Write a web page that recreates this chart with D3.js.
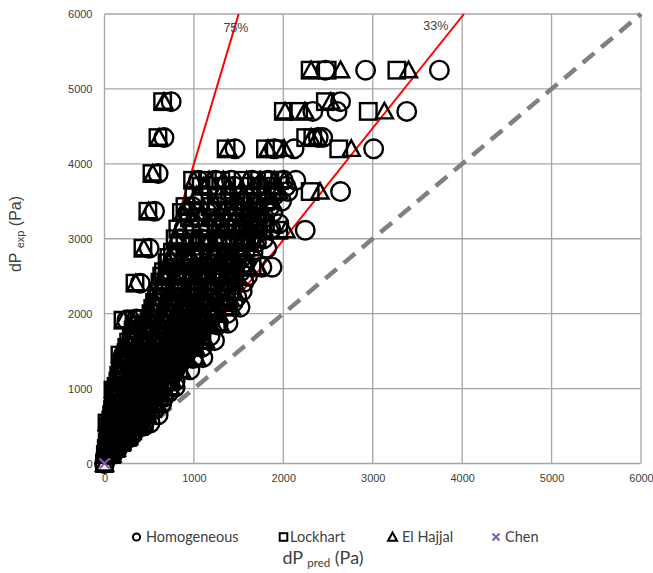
<!DOCTYPE html>
<html>
<head>
<meta charset="utf-8">
<script src="https://cdn.jsdelivr.net/npm/d3@7/dist/d3.min.js"></script>
<style>
  html, body { margin: 0; padding: 0; background: #fff; }
  svg { display: block; }
</style>
</head>
<body>
<script>
// Measured pressure drop (dP_exp) levels and the predicted pressure drops
// of each model at every level (one entry per experiment at that level).
const expLevels = [5250, 4830, 4700, 4350, 4200, 3870, 3780, 3630, 3500, 3367, 3350, 3200, 3113, 3000,
  2873, 2750, 2620, 2500, 2407, 2300, 2150, 2087, 2000, 1913, 1873, 1850, 1700, 1640, 1550, 1447,
  1413, 1400, 1250, 1100, 1020, 980, 950, 800, 650, 540, 500, 350, 200, 0,
  3700, 3580, 3430, 3280, 3130, 2950, 2820, 2680, 2560,
  2420, 2220, 2070, 1930, 1780, 1620, 1480, 1330, 1180, 1030, 880, 720, 580, 420, 280, 120];

const lockhartByLevel = [
  [2300, 2490, 3270], [650, 2470], [2000, 2170, 2950], [598, 2250, 2330], [1360, 1800, 1910, 2620],
  [531], [985, 1150, 1300, 1550, 1700, 1850, 1960], [1900, 2300], [1400, 1650, 1800], [485],
  [860, 1060, 1380, 1560, 1720], [1250, 1480, 1640, 1800], [1950], [790, 1000, 1150, 1350, 1500, 1650],
  [430, 1580], [720, 900, 1100, 1250, 1400], [1550, 1650], [640, 820, 1000, 1150, 1300, 1450], [341],
  [600, 780, 950, 1100, 1250, 1400], [560, 720, 880, 1020, 1160, 1300], [1380],
  [520, 680, 820, 960, 1100, 1240], [207], [1250], [350, 480, 620, 760, 900, 1030, 1150],
  [300, 440, 570, 700, 830, 950, 1070], [1090], [250, 400, 520, 640, 760, 870, 990], [173], [1000],
  [220, 360, 470, 580, 690, 800, 900], [180, 320, 420, 520, 620, 720, 830],
  [150, 290, 380, 470, 560, 650, 740], [720], [95], [120, 250, 330, 410, 490, 570, 660],
  [100, 210, 280, 350, 420, 490, 560], [80, 170, 230, 290, 350, 410, 470], [28, 420],
  [60, 140, 190, 240, 290, 340, 390], [40, 100, 140, 180, 220, 260], [20, 60, 85, 110, 130], [0],
  [1080, 1350, 1620, 1880], [1000, 1250, 1500, 1760], [900, 1180, 1440, 1700], [950, 1200, 1420, 1650],
  [820, 1080, 1300, 1560, 1720], [900, 1120, 1320, 1560], [760, 980, 1180, 1380, 1500],
  [700, 880, 1060, 1240, 1420], [660, 860, 1040, 1220, 1380],
  [620, 800, 970, 1130, 1280, 1420], [580, 750, 910, 1060, 1210, 1360], [540, 700, 850, 1000, 1150],
  [330, 500, 650, 790, 930, 1080], [320, 460, 600, 730, 860, 990], [270, 420, 550, 670, 790, 920],
  [240, 380, 500, 610, 720, 840], [200, 340, 440, 550, 650, 760], [160, 300, 400, 490, 590, 690],
  [130, 270, 350, 430, 520, 610], [110, 230, 300, 380, 450, 520, 600], [90, 190, 250, 320, 380, 440, 510],
  [70, 155, 210, 260, 310, 370], [50, 120, 160, 210, 250, 300], [30, 80, 110, 150, 190], [10, 40, 60, 80]
];

const elHajjalByLevel = [
  [2310, 2640, 3400], [665, 2530], [2020, 2240, 3130], [610, 2310, 2380], [1380, 1830, 2010, 2760],
  [540], [1000, 1170, 1330, 1590, 1740, 1900, 2010], [1950, 2410], [1450, 1700, 1860], [495],
  [880, 1090, 1420, 1600, 1780], [1290, 1520, 1690, 1860], [2030], [800, 1020, 1180, 1390, 1540, 1700],
  [440, 1640], [740, 930, 1130, 1290, 1440], [1600, 1720], [660, 850, 1030, 1190, 1340, 1490], [350],
  [620, 800, 980, 1130, 1290, 1450], [575, 740, 900, 1050, 1200, 1340], [1420],
  [535, 700, 840, 990, 1130, 1280], [215], [1290], [360, 495, 640, 780, 930, 1060, 1190],
  [310, 455, 590, 720, 850, 980, 1100], [1130], [260, 410, 540, 660, 780, 900, 1020], [180], [1030],
  [230, 370, 490, 600, 710, 820, 930], [190, 330, 440, 540, 640, 740, 860],
  [155, 300, 390, 480, 580, 670, 760], [740], [100], [125, 260, 340, 420, 500, 590, 680],
  [105, 220, 290, 360, 430, 500, 580], [85, 175, 240, 300, 360, 420, 480], [30, 440],
  [62, 145, 195, 250, 300, 350, 400], [42, 105, 145, 185, 225, 270], [22, 62, 88, 115, 135], [0],
  [1110, 1390, 1660, 1930], [1030, 1290, 1550, 1810], [920, 1210, 1480, 1740], [970, 1230, 1460, 1700],
  [840, 1110, 1340, 1600, 1770], [920, 1150, 1360, 1600], [780, 1010, 1210, 1420, 1550],
  [720, 900, 1090, 1280, 1460], [680, 880, 1070, 1260, 1420],
  [640, 820, 1000, 1160, 1320, 1460], [600, 770, 940, 1090, 1250, 1400], [555, 720, 870, 1030, 1180],
  [340, 515, 670, 810, 960, 1110], [330, 475, 615, 750, 890, 1020], [280, 435, 565, 690, 810, 950],
  [250, 390, 515, 630, 740, 870], [210, 350, 455, 565, 670, 780], [170, 310, 410, 505, 610, 710],
  [135, 280, 360, 445, 540, 630], [115, 240, 310, 390, 465, 540, 620], [95, 195, 260, 330, 390, 455, 530],
  [72, 160, 215, 270, 320, 380], [52, 125, 165, 215, 260, 310], [32, 82, 115, 155, 195], [12, 42, 62, 85]
];

const homogeneousByLevel = [
  [2470, 2920, 3745], [745, 2640], [2330, 2600, 3380], [665, 2390, 2440], [1460, 1900, 2120, 3010],
  [600], [1050, 1240, 1420, 1650, 1830, 2000, 2140], [2050, 2640], [1550, 1830, 1980], [560],
  [930, 1150, 1500, 1700, 1880], [1340, 1600, 1770, 1950], [2245], [850, 1080, 1260, 1460, 1620, 1780],
  [500, 1815], [790, 980, 1190, 1360, 1530], [1760, 1874], [700, 900, 1090, 1250, 1420, 1600], [400],
  [660, 850, 1030, 1200, 1360, 1540], [610, 790, 950, 1110, 1270, 1440], [1516],
  [570, 740, 890, 1050, 1200, 1370], [250], [1381], [380, 530, 680, 830, 980, 1120, 1270],
  [330, 480, 620, 770, 900, 1040, 1180], [1230], [270, 440, 570, 700, 830, 950, 1090], [210], [1100],
  [240, 400, 520, 640, 750, 870, 990], [200, 350, 460, 570, 680, 790, 955],
  [165, 320, 410, 520, 610, 710, 790], [790], [120], [135, 270, 360, 450, 540, 620, 720],
  [110, 230, 310, 380, 460, 540, 640], [90, 190, 250, 320, 380, 450, 600], [45, 510],
  [66, 150, 210, 260, 320, 370, 440], [45, 110, 150, 200, 240, 290], [24, 65, 95, 120, 145], [0],
  [1170, 1450, 1740, 2030], [1090, 1350, 1620, 1900], [980, 1270, 1560, 1850], [1030, 1300, 1530, 1790],
  [890, 1170, 1410, 1690, 1860], [980, 1210, 1430, 1700], [830, 1060, 1280, 1500, 1660],
  [760, 950, 1150, 1350, 1560], [720, 930, 1130, 1330, 1520],
  [680, 870, 1060, 1230, 1390, 1560], [630, 810, 990, 1150, 1310, 1480], [590, 760, 920, 1090, 1250],
  [360, 540, 700, 860, 1010, 1180], [350, 500, 650, 800, 940, 1090], [300, 460, 600, 730, 860, 1010],
  [260, 410, 540, 660, 780, 920], [220, 370, 480, 590, 700, 840], [180, 330, 430, 540, 640, 750],
  [145, 290, 380, 470, 560, 670], [120, 250, 330, 410, 490, 570, 660], [100, 210, 280, 350, 410, 480, 560],
  [78, 170, 230, 280, 340, 410], [56, 130, 180, 230, 270, 330], [35, 88, 120, 165, 210], [14, 45, 68, 90]
];

const chenPred = [0];
const chenExp = [0];

// Reference lines: measured = predicted / (1 - error)
const errorLines = [0.75, 0.33];
const errorLabels = ["75%", "33%"];
const errorLabelX = [1470, 3705];
const errorLabelY = [5765, 5790];

const tickValues = [0, 1000, 2000, 3000, 4000, 5000, 6000];
const seriesNames = ["Homogeneous", "Lockhart", "El Hajjal", "Chen"];

const W = 653, H = 573;
const svg = d3.select("body").append("svg").attr("width", W).attr("height", H);

const x = d3.scaleLinear().domain([0, 6000]).range([104.5, 641]);
const y = d3.scaleLinear().domain([0, 6000]).range([463.5, 14]);

// grid
const grid = svg.append("g").attr("stroke", "#a6a6a6").attr("stroke-width", 1.3);
tickValues.forEach(v => {
  grid.append("line").attr("x1", x(v)).attr("x2", x(v)).attr("y1", y(0)).attr("y2", y(6000));
  grid.append("line").attr("x1", x(0)).attr("x2", x(6000)).attr("y1", y(v)).attr("y2", y(v));
});

// axes (labels only)
const tickFont = "'Liberation Sans', Arial, sans-serif";
const yAxis = svg.append("g").attr("transform", `translate(${x(0)},0)`)
  .call(d3.axisLeft(y).tickValues(tickValues).tickSize(0).tickPadding(12).tickFormat(d3.format("d")));
const xAxis = svg.append("g").attr("transform", `translate(0,${y(0)})`)
  .call(d3.axisBottom(x).tickValues(tickValues).tickSize(0).tickPadding(11).tickFormat(d3.format("d")));
[xAxis, yAxis].forEach(a => {
  a.select(".domain").remove();
  a.selectAll("text").attr("font-family", tickFont).attr("font-size", 11).attr("fill", "#404040");
});

const plot = svg.append("g");

// 1:1 line
plot.append("line")
  .attr("x1", x(0)).attr("y1", y(0)).attr("x2", x(6000)).attr("y2", y(6000))
  .attr("stroke", "#808080").attr("stroke-width", 4.5).attr("stroke-dasharray", "15,9");

// error lines
errorLines.forEach((e, i) => {
  const xEnd = 6000 * (1 - e);
  plot.append("line")
    .attr("x1", x(0)).attr("y1", y(0)).attr("x2", x(xEnd)).attr("y2", y(6000))
    .attr("stroke", "#ff0000").attr("stroke-width", 2);
  plot.append("text")
    .attr("x", x(errorLabelX[i])).attr("y", y(errorLabelY[i]))
    .attr("text-anchor", "middle")
    .attr("font-family", tickFont).attr("font-size", 12.5).attr("fill", "#404040")
    .text(errorLabels[i]);
});

function flatten(byLevel) {
  const out = [];
  byLevel.forEach((row, i) => row.forEach(p => out.push({ pred: p, exp: expLevels[i] })));
  return out;
}

const homogeneous = flatten(homogeneousByLevel);
const lockhart = flatten(lockhartByLevel);
const elHajjal = flatten(elHajjalByLevel);
const chen = chenPred.map((p, i) => ({ pred: p, exp: chenExp[i] }));

const markStroke = 2.4;

plot.append("g").selectAll("circle").data(homogeneous).join("circle")
  .attr("cx", d => x(d.pred)).attr("cy", d => y(d.exp)).attr("r", 9.3)
  .attr("fill", "none").attr("stroke", "#000").attr("stroke-width", markStroke);

const sq = 16.5;
plot.append("g").selectAll("rect").data(lockhart).join("rect")
  .attr("x", d => x(d.pred) - sq / 2).attr("y", d => y(d.exp) - sq / 2)
  .attr("width", sq).attr("height", sq)
  .attr("fill", "none").attr("stroke", "#000").attr("stroke-width", markStroke);

const triPath = "M0,-8.5L8.5,7L-8.5,7Z";
plot.append("g").selectAll("path").data(elHajjal).join("path")
  .attr("transform", d => `translate(${x(d.pred)},${y(d.exp)})`)
  .attr("d", triPath)
  .attr("fill", "none").attr("stroke", "#000").attr("stroke-width", markStroke);

plot.append("g").selectAll("path").data(chen).join("path")
  .attr("transform", d => `translate(${x(d.pred)},${y(d.exp)})`)
  .attr("d", "M-5,-5L5,5M-5,5L5,-5")
  .attr("stroke", "#7f5fa8").attr("stroke-width", 2);

// legend
const legendFont = "Lato, 'Open Sans', sans-serif";
const legendY = 537;
const legendItems = [
  { x: 136.5, tx: 146 },
  { x: 283.5, tx: 290 },
  { x: 392.5, tx: 402 },
  { x: 496, tx: 505 }
];
const lg = svg.append("g");
legendItems.forEach((it, i) => {
  if (i === 0) {
    lg.append("circle").attr("cx", it.x).attr("cy", legendY).attr("r", 3.6)
      .attr("fill", "none").attr("stroke", "#000").attr("stroke-width", 2);
  } else if (i === 1) {
    lg.append("rect").attr("x", it.x - 3.8).attr("y", legendY - 3.8).attr("width", 7.6).attr("height", 7.6)
      .attr("fill", "none").attr("stroke", "#000").attr("stroke-width", 2);
  } else if (i === 2) {
    lg.append("path").attr("transform", `translate(${it.x},${legendY})`)
      .attr("d", "M0,-4.5L4.5,3.8L-4.5,3.8Z")
      .attr("fill", "none").attr("stroke", "#000").attr("stroke-width", 2);
  } else {
    lg.append("path").attr("transform", `translate(${it.x},${legendY})`)
      .attr("d", "M-3.5,-3.5L3.5,3.5M-3.5,3.5L3.5,-3.5")
      .attr("stroke", "#7f5fa8").attr("stroke-width", 2);
  }
  lg.append("text").attr("x", it.tx).attr("y", legendY + 5)
    .attr("font-family", legendFont).attr("font-size", 14.5).attr("fill", "#404040")
    .text(seriesNames[i]);
});

// axis titles
const xt = svg.append("text").attr("x", 323).attr("y", 564).attr("text-anchor", "middle")
  .attr("font-family", legendFont).attr("font-size", 18).attr("fill", "#404040");
xt.append("tspan").text("dP ");
xt.append("tspan").attr("font-size", 11.5).attr("dy", 3).text("pred");
xt.append("tspan").attr("dy", -3).text("  (Pa)");

const yt = svg.append("text")
  .attr("transform", "translate(21,234) rotate(-90)")
  .attr("text-anchor", "middle")
  .attr("font-family", tickFont).attr("font-size", 16).attr("fill", "#404040");
yt.append("tspan").text("dP ");
yt.append("tspan").attr("font-size", 11).attr("dy", 3).text("exp");
yt.append("tspan").attr("dy", -3).text(" (Pa)");
</script>
</body>
</html>
